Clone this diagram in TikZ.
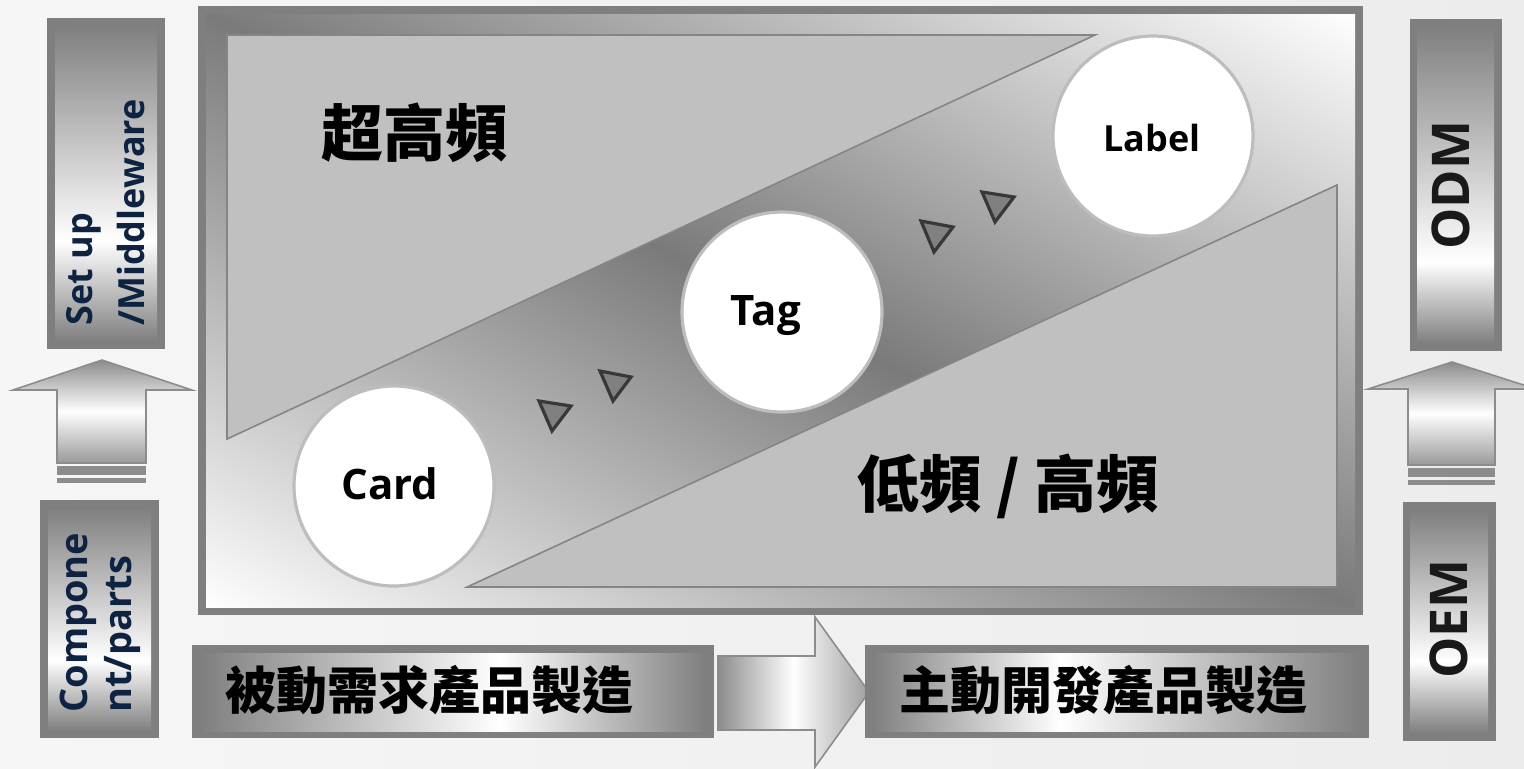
\documentclass[tikz,border=0pt]{standalone}
\usepackage{fontspec}
\setmainfont{Open Sans}
\newfontfamily\cjk{Noto Sans CJK TC}
\definecolor{bgL}{HTML}{F6F6F6}
\definecolor{bgR}{HTML}{ECECEC}
\definecolor{frameD}{HTML}{7F7F7F}
\definecolor{panelD}{HTML}{7A7A7A}
\definecolor{boxD}{HTML}{7F7F7F}
\definecolor{triF}{HTML}{C0C0C0}
\definecolor{triS}{HTML}{858585}
\definecolor{circS}{HTML}{BDBDBD}
\definecolor{navy}{HTML}{0E2342}
\definecolor{arrS}{HTML}{8C8C8C}
\begin{document}
\begin{tikzpicture}[x=0.5pt,y=-0.5pt,
  tri/.style={fill=triF,draw=triS,line width=0.8pt,line join=miter},
  circ/.style={circle,fill=white,draw=circS,line width=1.6pt,minimum size=100pt,inner sep=0pt},
  marker/.style={fill=black!50,draw=black!78,line width=1.6pt,line join=miter},
  inlbl/.style={font=\bfseries\fontsize{21pt}{21pt}\selectfont,text=black,inner sep=0pt},
  bigcjk/.style={font=\cjk\bfseries\fontsize{31pt}{31pt}\selectfont,text=black,inner sep=0pt},
  botcjk/.style={font=\cjk\bfseries\fontsize{25.5pt}{25.5pt}\selectfont,text=black,inner sep=0pt},
  vlbl/.style={rotate=90,align=left,inner sep=0pt,text=navy},
  oxm/.style={rotate=90,inner sep=0pt,text=black!90,font=\bfseries\fontsize{26pt}{26pt}\selectfont},
  blockarrow/.style={draw=arrS,line width=0.8pt,line join=miter}
]
\useasboundingbox (0,0) rectangle (1524,768);
% background
\shade[left color=bgL,right color=bgR] (0,0) rectangle (1524,768);

% ---------- main frame ----------
\fill[frameD] (198,6) rectangle (1363,615);
\begin{scope}
  \clip (206,14) rectangle (1355,607);
  \begin{scope}[transform canvas={rotate around={-27.3:(780.5,310.5)}}]
    \shade[top color=white,bottom color=white,middle color=panelD]
      (-419.5,-219.5) rectangle (1980.5,840.5);
  \end{scope}
\end{scope}

% triangles
\draw[tri] (227,35) -- (1095,35) -- (227,439) -- cycle;
\draw[tri] (467,587) -- (1337,587) -- (1337,185) -- cycle;

% circles
\node[circ] (card) at (394,486) {};
\node[circ] (tag) at (782,312) {};
\node[circ] (label) at (1153,136) {};
\node[inlbl] (cardt) at (390,484) {Card};
\node[inlbl] (tagt) at (766,316) {Tag};
\node[inlbl,font=\bfseries\fontsize{18pt}{18pt}\selectfont] (labelt) at (1152,138) {Label};

% small triangle markers
\draw[marker] (539,401) -- (571,406) -- (552,431) -- cycle;
\draw[marker] (600,371) -- (631,377) -- (613,401) -- cycle;
\draw[marker] (921,221) -- (953,227) -- (934,252) -- cycle;
\draw[marker] (982,192) -- (1014,197) -- (995,222) -- cycle;

% region labels
\node[bigcjk] (uhf) at (414,133) {超高頻};
\node[bigcjk] (lfhf) at (1008,486) {低頻 / 高頻};

% ---------- left column ----------
\fill[frameD] (47,18) rectangle (165,349);
\shade[top color=boxD,bottom color=white] (55,26) rectangle (157,241.5);
\shade[top color=white,bottom color=boxD] (55,241) rectangle (157,341);
\node[vlbl,anchor=west,font=\bfseries\fontsize{18pt}{26pt}\selectfont] (setup) at (106,326) {Set up\\/Middleware};

\shadedraw[blockarrow,top color=black!45,bottom color=black!40,middle color=white]
  (102,360) -- (192,390) -- (146,390) -- (146,463) -- (57,463) -- (57,390) -- (13,390) -- cycle;
\fill[black!45] (57,466) rectangle (146,475);
\fill[black!45] (57,477.5) rectangle (146,483);

\fill[frameD] (40,500) rectangle (159,738);
\shade[top color=boxD,bottom color=white] (48,508) rectangle (151,660.5);
\shade[top color=white,bottom color=boxD] (48,660) rectangle (151,731);
\node[vlbl,anchor=west,font=\bfseries\fontsize{19pt}{22pt}\selectfont] (comp) at (100,713) {Compone\\nt/parts};

% ---------- right column ----------
\fill[frameD] (1410,19) rectangle (1502,351);
\shade[top color=boxD,bottom color=white] (1417,26) rectangle (1494,262.5);
\shade[top color=white,bottom color=boxD] (1417,262) rectangle (1494,343);
\node[oxm] (odm) at (1451,185) {ODM};

\shadedraw[blockarrow,top color=black!45,bottom color=black!40,middle color=white]
  (1452,362) -- (1536,389) -- (1495,389) -- (1495,465) -- (1408,465) -- (1408,389) -- (1368,389) -- cycle;
\fill[black!45] (1408,468) rectangle (1495,477);
\fill[black!45] (1408,479.5) rectangle (1495,485);

\fill[frameD] (1403,502) rectangle (1496,741);
\shade[top color=boxD,bottom color=white] (1410,510) rectangle (1488,661.5);
\shade[top color=white,bottom color=boxD] (1410,661) rectangle (1488,733);
\node[oxm] (oem) at (1449,619) {OEM};

% ---------- bottom row ----------
\fill[frameD] (192,645) rectangle (714,738);
\shade[left color=boxD,right color=white] (200,653) rectangle (500.5,731);
\shade[left color=white,right color=boxD] (500,653) rectangle (706,731);
\node[botcjk] (passive) at (429,690) {被動需求產品製造};

\shadedraw[blockarrow,left color=black!45,right color=black!38,middle color=white]
  (718,656) -- (815,656) -- (815,617) -- (869,692) -- (815,767) -- (815,730) -- (718,730) -- cycle;

\fill[frameD] (865,645) rectangle (1369,738);
\shade[left color=boxD,right color=white] (872,653) rectangle (1060.5,731);
\shade[left color=white,right color=boxD] (1060,653) rectangle (1361,731);
\node[botcjk] (active) at (1103,690) {主動開發產品製造};
\end{tikzpicture}
\end{document}
